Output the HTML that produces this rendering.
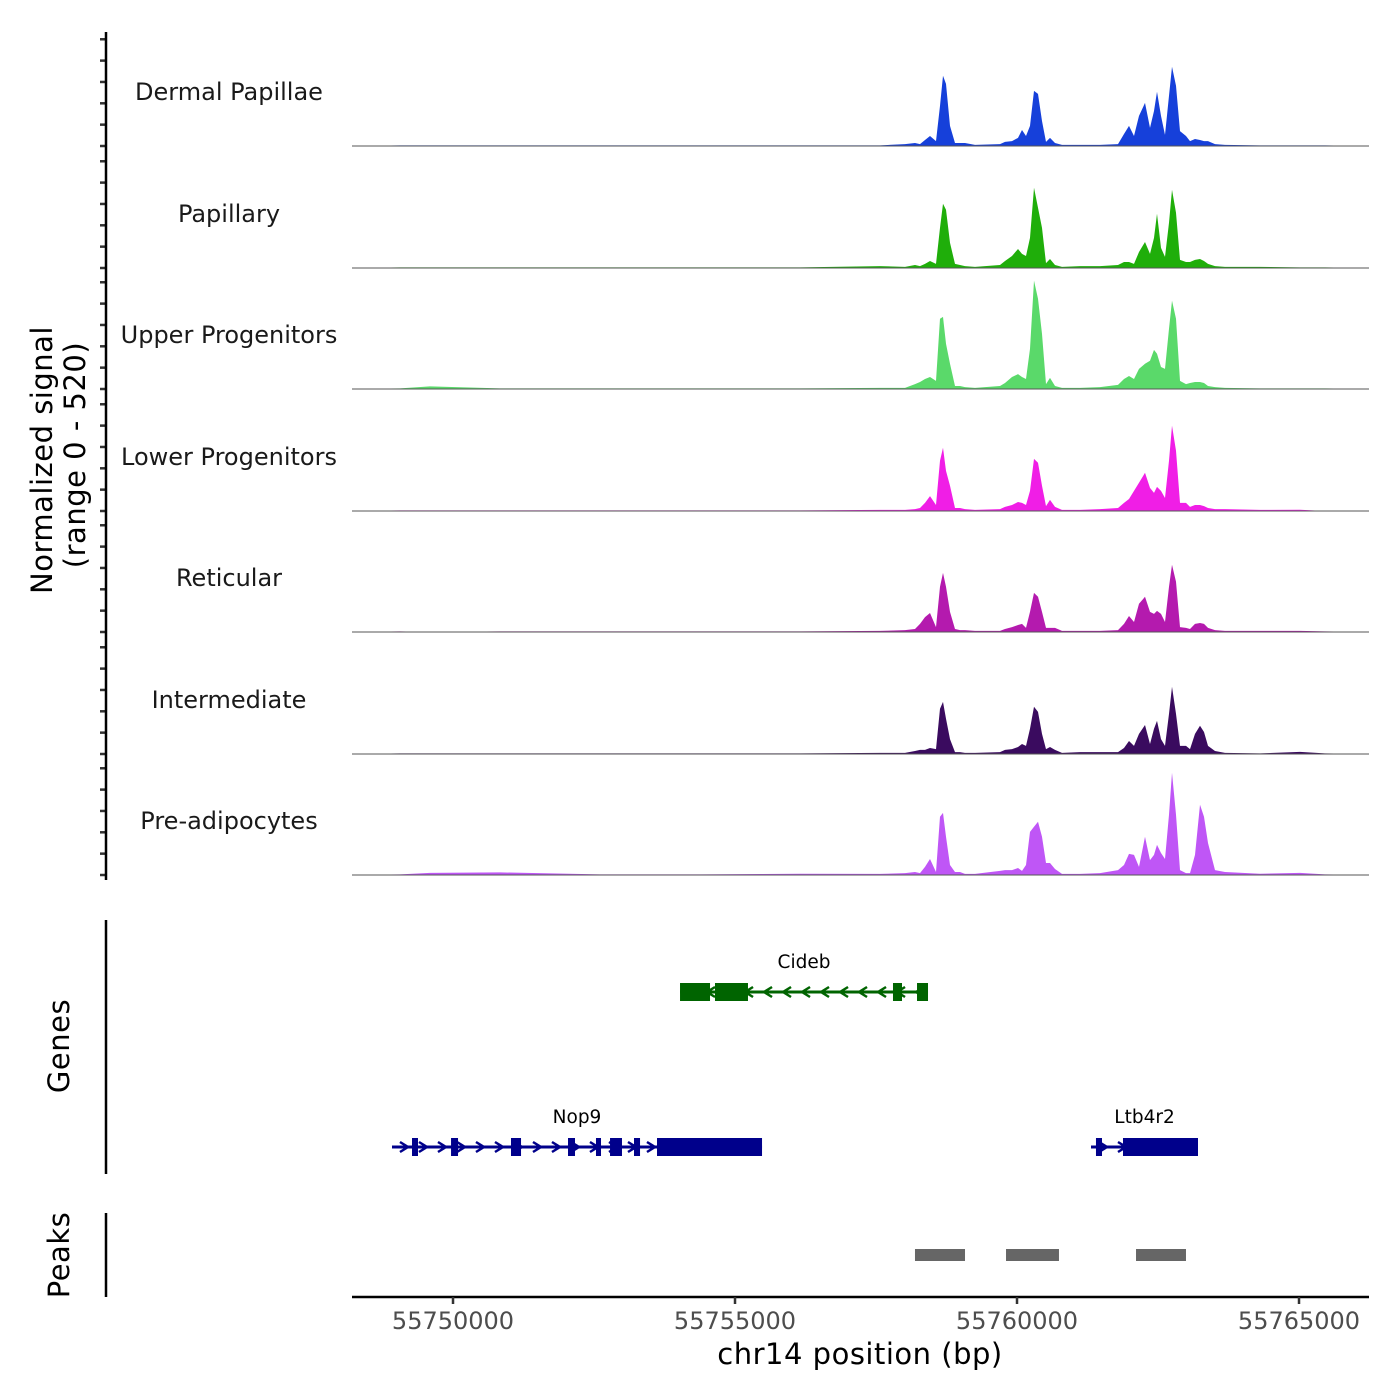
<!DOCTYPE html>
<html><head><meta charset="utf-8"><style>
html,body{margin:0;padding:0;background:#fff;}
svg{display:block;font-family:"DejaVu Sans","Liberation Sans",sans-serif;}
</style></head><body>
<svg id="chart" width="1400" height="1400" viewBox="0 0 1400 1400" xmlns="http://www.w3.org/2000/svg"></svg>
<script>
// ---------------- data ----------------
const positions = [55748209,55749060,55749592,55750833,55752606,55754379,55756152,55757571,55758014,55758191,55758280,55758369,55758457,55758564,55758634,55758688,55758741,55758812,55758900,55758989,55759078,55759255,55759698,55759787,55759911,55760017,55760088,55760159,55760230,55760301,55760372,55760443,55760514,55760585,55760673,55760798,55761117,55761471,55761790,55761897,55761985,55762074,55762163,55762269,55762358,55762429,55762482,55762553,55762624,55762695,55762748,55762819,55762890,55762996,55763067,55763156,55763244,55763316,55763386,55763510,55763688,55764308,55765017,55765461,55766241];
const trackNames = ["Dermal Papillae","Papillary","Upper Progenitors","Lower Progenitors","Reticular","Intermediate","Pre-adipocytes"];
const dermalPapillae = [0,3,3,3,3,3,3,3,9,14,9,28,47,23,188,329,291,94,14,14,14,5,9,19,23,38,75,47,94,258,244,117,19,38,14,5,5,5,9,56,94,47,141,202,85,164,254,141,52,235,371,282,70,47,23,33,28,23,23,9,5,3,3,3,0];
const papillary = [0,3,3,3,3,3,3,9,5,14,9,19,33,19,188,301,273,118,19,14,9,5,14,33,56,89,66,56,141,376,282,188,23,42,14,5,9,9,14,28,28,19,75,122,66,141,254,94,52,212,367,259,38,28,28,38,42,33,19,9,5,5,3,3,0];
const upperProgenitors = [0,3,12,3,3,3,3,5,5,23,33,47,56,38,329,338,212,118,14,14,9,5,14,28,56,70,56,47,188,508,423,258,23,52,14,5,5,9,19,47,61,47,94,118,132,183,165,103,94,282,414,329,38,23,28,33,33,28,14,9,5,3,3,3,0];
const lowerProgenitors = [0,3,3,3,3,3,3,5,5,9,14,38,70,28,235,296,188,118,14,14,9,5,9,19,28,42,38,28,94,244,226,118,23,52,19,5,5,9,14,38,56,94,132,179,108,85,113,94,61,235,400,282,38,38,19,28,28,23,14,9,9,5,6,0,0];
const reticular = [0,3,0,3,3,3,3,5,9,14,38,70,89,23,212,277,212,94,14,9,9,5,5,14,23,33,38,19,94,183,165,94,19,19,19,5,5,5,9,38,75,47,132,165,94,85,99,85,47,212,315,235,23,19,14,38,42,38,19,9,5,5,5,3,0];
const intermediate = [0,3,3,3,3,3,3,5,5,14,19,19,28,23,212,244,165,70,9,9,5,5,9,19,23,33,47,38,118,221,197,94,23,33,19,5,9,9,9,28,61,38,94,136,47,118,155,70,38,188,315,188,38,38,23,94,132,103,38,14,5,3,10,3,0];
const preAdipocytes = [0,3,10,12,3,3,6,5,9,14,9,38,75,14,273,291,179,47,14,14,5,5,19,23,23,33,19,47,202,226,249,179,56,56,28,5,5,9,23,47,99,94,38,179,70,94,141,103,75,282,479,282,23,9,9,94,329,273,150,23,14,6,10,3,0];
const trackColors = ["#1640da","#1fae0a","#5ad96a","#f01ee6","#b41aae","#3a0b5f","#bf56f6"];
const xTicks = [55750000,55755000,55760000,55765000];
const yTicks = [0,100,200,300,400,500];
const geneNames = ["Cideb","Nop9","Ltb4r2"];
const geneStarts = [55754025,55748918,55761312];
const geneEnds = [55758422,55755479,55763209];
const geneStrands = [-1,1,1];
const geneRows = [0,1,1];
const geneExons = [
  [[55754025,55754557],[55754645,55755230],[55757801,55757961],[55758227,55758422]],
  [[55749273,55749379],[55749965,55750089],[55751028,55751206],[55752039,55752163],[55752535,55752624],[55752784,55752996],[55753209,55753316],[55753617,55755479]],
  [[55761400,55761507],[55761879,55763209]]
];
const peakStarts = [55758191,55759805,55762110];
const peakEnds = [55759078,55760744,55762996];

// ---------------- scales ----------------
const X0=352, X1=1369, D0=55748209, D1=55766241;
const xs = v => X0 + (v-D0)/(D1-D0)*(X1-X0);
const baselines = [146,268,389,511,632,754,875];
const YMAX=520, TRACK_PX=111;
const ys = (v,b) => b - v/YMAX*TRACK_PX;
const NS="http://www.w3.org/2000/svg";
const svg=document.getElementById('chart');
function mk(tag,attrs,parent){const e=document.createElementNS(NS,tag);for(const k in attrs)e.setAttribute(k,attrs[k]);(parent||svg).appendChild(e);return e;}

const series=[dermalPapillae,papillary,upperProgenitors,lowerProgenitors,reticular,intermediate,preAdipocytes];
series.forEach((vals,t)=>{
  const b=baselines[t];
  const g=mk('g',{});
  
  
  let d='M'+xs(positions[0]).toFixed(1)+','+b;
  positions.forEach((p,i)=>{d+=' L'+xs(p).toFixed(1)+','+ys(vals[i],b).toFixed(1);});
  d+=' L'+xs(positions[positions.length-1]).toFixed(1)+','+b+' Z';
  const a=mk('path',{d:d,fill:trackColors[t],stroke:'none'},g);
  
  
  const bl=mk('line',{x1:X0,x2:X1,y1:b,y2:b,stroke:'#555',"stroke-width":1},g);
  
  
  const lb=mk('text',{x:229,y:b-46,"text-anchor":"middle","font-size":24,fill:'#1a1a1a'},g);
  lb.textContent=trackNames[t];
  
  
  yTicks.forEach(v=>{
    const tk=mk('line',{x1:100,x2:106,y1:ys(v,b),y2:ys(v,b),stroke:'#333',"stroke-width":2.5});
    
    
  });
});
[[32,880,'signal-axis-line'],[920,1174,'genes-axis-line'],[1213,1297,'peaks-axis-line']].forEach(a=>{
  const l=mk('line',{x1:106,x2:106,y1:a[0],y2:a[1],stroke:'#000',"stroke-width":2.5});
  
  
});
function vtext(txt,x,y,name){
  const t=mk('text',{x:x,y:y,"text-anchor":"middle","font-size":29,fill:'#000',transform:'rotate(-90 '+x+' '+y+')',"letter-spacing":"0.5"});
  t.textContent=txt;
  
  
}
vtext('Normalized signal',52,460,'y-axis-title');
vtext('(range 0 - 520)',85,455,'y-axis-range');
vtext('Genes',69,1046,'genes-axis-title');
vtext('Peaks',69,1255,'peaks-axis-title');

const rowY=[992,1147];
geneNames.forEach((n,i)=>{
  const y=rowY[geneRows[i]];
  const col=geneRows[i]===0?'#006400':'#00008b';
  const g=mk('g',{});
  
  
  const x0=xs(geneStarts[i]), x1=xs(geneEnds[i]);
  mk('line',{x1:x0,x2:x1,y1:y,y2:y,stroke:col,"stroke-width":3},g);
  for(let ax=x0+12; ax<x1-6; ax+=19){
    const s=geneStrands[i];
    mk('polyline',{points:(ax-4*s)+','+(y-5)+' '+(ax+4*s)+','+y+' '+(ax-4*s)+','+(y+5),fill:'none',stroke:col,"stroke-width":2.5},g);
  }
  geneExons[i].forEach(e=>{
    const r=mk('rect',{x:xs(e[0]),y:y-9,width:xs(e[1])-xs(e[0]),height:18,fill:col},g);
    
    
  });
  const t=mk('text',{x:(x0+x1)/2,y:y-24,"text-anchor":"middle","font-size":18.5,fill:'#000'},g);
  t.textContent=n;
  
  
});
peakStarts.forEach((s,i)=>{
  const r=mk('rect',{x:xs(s),y:1249,width:xs(peakEnds[i])-xs(s),height:12,fill:'#666'});
  
  
});
const xa=mk('line',{x1:X0,x2:X1,y1:1297,y2:1297,stroke:'#000',"stroke-width":2.5});


xTicks.forEach(v=>{
  const tk=mk('line',{x1:xs(v),x2:xs(v),y1:1297,y2:1304,stroke:'#333',"stroke-width":2.5});
  
  
  const t=mk('text',{x:xs(v),y:1329,"text-anchor":"middle","font-size":24,fill:'#4d4d4d'});
  t.textContent=String(v);
  
  
});
const xt=mk('text',{x:860,y:1364,"text-anchor":"middle","font-size":29,fill:'#000',"letter-spacing":"0.5"});
xt.textContent='chr14 position (bp)';


</script>
</body></html>
